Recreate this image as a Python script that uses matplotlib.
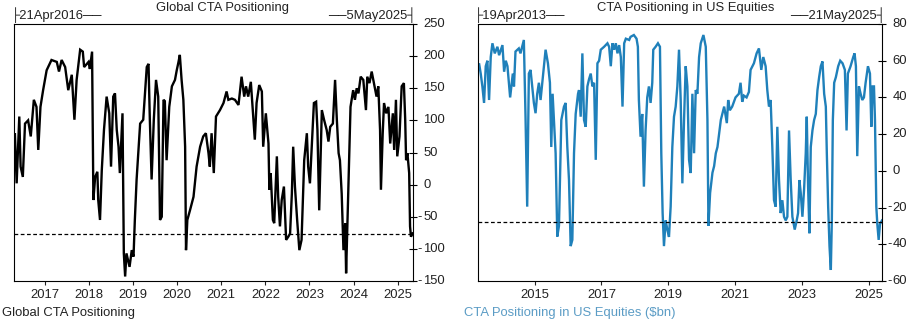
import matplotlib
matplotlib.use("Agg")
import matplotlib.pyplot as plt
from matplotlib import transforms

plt.rcParams['font.family'] = ['Liberation Sans', 'DejaVu Sans']
plt.rcParams['font.size'] = 9.4

# Global CTA positioning, decimal years
gl_year = [2016.30, 2016.32, 2016.36, 2016.42, 2016.45, 2016.50, 2016.55, 2016.62, 2016.68, 2016.75,
           2016.81, 2016.85, 2016.90, 2016.96, 2017.04, 2017.15, 2017.27, 2017.32, 2017.38, 2017.46,
           2017.53, 2017.61, 2017.67, 2017.72, 2017.80, 2017.86, 2017.89, 2017.99, 2018.02, 2018.07,
           2018.10, 2018.14, 2018.19, 2018.21, 2018.25, 2018.29, 2018.34, 2018.40, 2018.46, 2018.50,
           2018.55, 2018.59, 2018.63, 2018.67, 2018.70, 2018.76, 2018.79, 2018.82, 2018.85, 2018.92,
           2018.97, 2019.01, 2019.04, 2019.08, 2019.16, 2019.23, 2019.31, 2019.35, 2019.38, 2019.42,
           2019.47, 2019.52, 2019.57, 2019.61, 2019.65, 2019.69, 2019.72, 2019.76, 2019.82, 2019.88,
           2019.95, 2019.99, 2020.03, 2020.06, 2020.10, 2020.14, 2020.18, 2020.20, 2020.23, 2020.29,
           2020.37, 2020.44, 2020.52, 2020.59, 2020.65, 2020.71, 2020.74, 2020.78, 2020.83, 2020.88,
           2020.97, 2021.05, 2021.12, 2021.16, 2021.24, 2021.31, 2021.39, 2021.46, 2021.52, 2021.56,
           2021.61, 2021.67, 2021.71, 2021.76, 2021.80, 2021.86, 2021.92, 2021.95, 2022.01, 2022.07,
           2022.09, 2022.12, 2022.17, 2022.20, 2022.26, 2022.29, 2022.33, 2022.37, 2022.42, 2022.47,
           2022.52, 2022.56, 2022.60, 2022.63, 2022.67, 2022.72, 2022.77, 2022.82, 2022.88, 2022.94,
           2022.97, 2023.01, 2023.05, 2023.10, 2023.15, 2023.18, 2023.22, 2023.28, 2023.33, 2023.39,
           2023.43, 2023.47, 2023.53, 2023.58, 2023.62, 2023.66, 2023.69, 2023.73, 2023.77, 2023.81,
           2023.83, 2023.86, 2023.90, 2023.93, 2023.99, 2024.03, 2024.07, 2024.11, 2024.16, 2024.22,
           2024.28, 2024.31, 2024.36, 2024.41, 2024.46, 2024.52, 2024.56, 2024.60, 2024.62, 2024.66,
           2024.69, 2024.74, 2024.79, 2024.83, 2024.89, 2024.92, 2024.96, 2024.99, 2025.04, 2025.09,
           2025.14, 2025.17, 2025.19, 2025.22, 2025.26, 2025.28, 2025.30, 2025.34]
gl_val = [59, 80, 2, 106, 28, 12, 95, 100, 75, 132,
          121, 54, 121, 147, 178, 194, 191, 176, 194, 183,
          147, 171, 101, 163, 210, 207, 183, 191, 180, 207,
          -24, 12, 20, -24, -55, 22, 85, 137, 111, 28,
          137, 142, 85, 59, 18, 111, -107, -143, -107, -128,
          -102, -112, -55, 8, 95, 101, 183, 188, 101, 8,
          101, 163, 137, -55, -50, 132, 130, 38, 121, 153,
          163, 178, 191, 202, 163, 132, 59, -102, -55, -40,
          -19, 28, 59, 75, 80, 49, 28, 80, 18, 106,
          116, 127, 145, 132, 134, 132, 124, 168, 137, 153,
          137, 160, 121, 70, 127, 155, 145, 59, 111, 64,
          -8, 18, -55, -60, 44, -19, -65, -24, -3, -86,
          -81, -76, -14, 59, -3, -55, -102, -86, 38, 80,
          28, 2, 59, 127, 129, 85, -40, 116, 101, 85,
          67, 90, 95, 163, 101, 49, 38, -14, -102, -60,
          -138, -60, 49, 121, 147, 132, 150, 142, 168, 163,
          116, 168, 158, 176, 158, 137, 153, 85, -8, 80,
          127, 111, 121, 64, 111, 54, 132, 44, 75, 153,
          158, 101, 38, 49, 18, -65, -81, -76]
gl_level = -77

# CTA positioning in US equities ($bn), decimal years
us_year = [2013.30, 2013.34, 2013.39, 2013.44, 2013.49, 2013.54, 2013.59, 2013.64, 2013.69, 2013.74,
           2013.81, 2013.89, 2013.94, 2014.04, 2014.09, 2014.14, 2014.19, 2014.27, 2014.35, 2014.385,
           2014.43, 2014.53, 2014.58, 2014.63, 2014.68, 2014.73, 2014.78, 2014.83, 2014.88, 2014.93,
           2014.98, 2015.03, 2015.08, 2015.13, 2015.18, 2015.28, 2015.33, 2015.40, 2015.46, 2015.50,
           2015.54, 2015.58, 2015.63, 2015.68, 2015.73, 2015.80, 2015.88, 2015.93, 2015.98, 2016.03,
           2016.08, 2016.13, 2016.18, 2016.23, 2016.30, 2016.33, 2016.38, 2016.43, 2016.48, 2016.53,
           2016.58, 2016.63, 2016.68, 2016.73, 2016.78, 2016.83, 2016.88, 2016.93, 2016.98, 2017.08,
           2017.18, 2017.23, 2017.28, 2017.33, 2017.38, 2017.43, 2017.48, 2017.53, 2017.58, 2017.63,
           2017.68, 2017.73, 2017.83, 2017.87, 2017.97, 2018.05, 2018.09, 2018.12, 2018.17, 2018.22,
           2018.27, 2018.32, 2018.37, 2018.42, 2018.47, 2018.52, 2018.55, 2018.62, 2018.69, 2018.75,
           2018.79, 2018.83, 2018.87, 2018.92, 2018.97, 2019.02, 2019.07, 2019.12, 2019.17, 2019.22,
           2019.27, 2019.32, 2019.37, 2019.42, 2019.47, 2019.52, 2019.57, 2019.62, 2019.67, 2019.72,
           2019.77, 2019.82, 2019.87, 2019.92, 2019.97, 2020.05, 2020.12, 2020.17, 2020.20, 2020.25,
           2020.32, 2020.37, 2020.42, 2020.47, 2020.57, 2020.67, 2020.75, 2020.79, 2020.84, 2020.91,
           2021.01, 2021.11, 2021.16, 2021.21, 2021.26, 2021.34, 2021.41, 2021.46, 2021.56, 2021.64,
           2021.71, 2021.78, 2021.84, 2021.91, 2021.96, 2022.01, 2022.06, 2022.11, 2022.16, 2022.21,
           2022.26, 2022.31, 2022.36, 2022.41, 2022.46, 2022.51, 2022.56, 2022.61, 2022.66, 2022.71,
           2022.78, 2022.84, 2022.88, 2022.92, 2022.96, 2023.01, 2023.06, 2023.11, 2023.14, 2023.18,
           2023.22, 2023.26, 2023.31, 2023.36, 2023.41, 2023.46, 2023.51, 2023.56, 2023.61, 2023.66,
           2023.71, 2023.74, 2023.78, 2023.82, 2023.86, 2023.89, 2023.92, 2023.96, 2024.01, 2024.08,
           2024.14, 2024.21, 2024.28, 2024.33, 2024.37, 2024.45, 2024.53, 2024.57, 2024.61, 2024.65,
           2024.70, 2024.75, 2024.80, 2024.85, 2024.90, 2024.97, 2025.03, 2025.07, 2025.11, 2025.15,
           2025.18, 2025.22, 2025.25, 2025.29, 2025.33, 2025.39]
us_val = [55, 58.6, 53, 46, 37, 57, 60, 38.6, 62, 69.5,
          64, 67.6, 63, 68.5, 54, 60, 57, 40, 53, 46,
          65, 66.7, 64, 67.6, 71.3, 29.5, -19.5, 53, 55, 46,
          37, 31.4, 42, 48, 38.6, 57, 66, 58.6, 48, 13,
          42, 27.7, 9.6, -35.8, -30, 27.7, 35, 37, 13, -5,
          -41, -37.6, 9.6, 31, 42, 44, 29.5, 64, 27.7, 24,
          46, 50, 53, 46, 48, 6, 58.6, 60, 66, 67.6,
          69.5, 67.6, 57, 69.5, 66, 69.5, 64, 68.5, 62, 35,
          69.5, 72, 71.3, 73, 74, 72, 67.6, 38.6, 18.6, 31,
          -8.6, 22, 40, 46, 37, 48, 66, 67.6, 69.5, 67.6,
          9.6, -23, -41, -27, -32, -36, -19.5, 13, 29.5, 35,
          46, 66, 38.6, -6.8, 27.7, 57, 46, 6, -1.2, 42,
          9.6, 44, 42, 62, 69.5, 74, 67.6, 27.7, -30, -12,
          -1, 2.6, 9.6, 13, 27.7, 35, 26, 38.6, 33, 35,
          40, 42, 48, 37.6, 41, 40, 43, 55, 58.6, 64,
          66.7, 55, 62, 57, 44, 35, 38.6, 13, -15.9, -19.5,
          24, -5, -23, -16, -25, -27, -25, 22, -5, -25,
          -32, -27, -23, -5, -12, -25, -10, 9.6, 29.5, -8.6,
          -34, 13, 22, 27.7, 31, 44, 51, 57, 59.6, 42,
          35, 9.6, -19.5, -41, -54, -27, 27.7, 48, 51, 57,
          60, 58.6, 55, 22, 53, 57, 62, 64, 57, 8,
          46, 42, 38.6, 40, 48, 57, 53, 24, 46, 46,
          27.7, -19.5, -29, -37.6, -29, -27]
us_level = -28

gl_xticks = list(range(2017, 2026))
us_xticks = list(range(2015, 2026, 2))
gl_yticks = list(range(-150, 251, 50))
us_yticks = list(range(-60, 81, 20))

INK = '#222222'
BLUE = '#1f80ba'


def panel(ax, x, y, color, yticks, xticks, level, title, start, end, title_x):
    ax.plot(x, y, color=color, lw=1.7, solid_joinstyle='miter')
    ax.axhline(level, color='black', lw=0.9, ls=(0, (3, 2)))
    ax.set_xlim(x[0], x[-1])
    ax.set_ylim(yticks[0], yticks[-1])
    ax.set_xticks(xticks)
    ax.set_xticklabels([str(t) for t in xticks])
    ax.tick_params(axis='x', direction='out', length=3, width=0.8, pad=2.5, colors=INK)
    ax.yaxis.tick_right()
    ax.set_yticks(yticks)
    ax.tick_params(axis='y', direction='inout', length=6, width=0.8, labelright=False)
    for s in ax.spines.values():
        s.set_linewidth(0.8)

    # value labels on the right: digits left-aligned, minus hangs to the left
    blend = transforms.blended_transform_factory(ax.transAxes, ax.transData)
    digits = blend + transforms.ScaledTranslation(10.5 / 100, 0, ax.figure.dpi_scale_trans)
    minus = blend + transforms.ScaledTranslation(9.5 / 100, 0, ax.figure.dpi_scale_trans)
    for v in yticks:
        ax.text(1, v, str(abs(v)), transform=digits, ha='left', va='center', color=INK)
        if v < 0:
            ax.text(1, v, '-', transform=minus, ha='right', va='center', color=INK)

    ax.annotate(title, xy=(title_x, 1), xycoords='axes fraction', xytext=(0, 16),
                textcoords='offset pixels', ha='center', va='center', color=INK)
    ax.annotate('\u251c' + start + '\u2500\u2500', xy=(0, 1), xycoords='axes fraction',
                xytext=(-3.5, 9), textcoords='offset pixels', ha='left', va='center', color=INK)
    ax.annotate('\u2500\u2500' + end + '\u2524', xy=(1, 1), xycoords='axes fraction',
                xytext=(3.5, 9), textcoords='offset pixels', ha='right', va='center', color=INK)


fig = plt.figure(figsize=(9.14, 3.22), dpi=100)
ax1 = fig.add_axes([14 / 914, 41 / 322, 398.7 / 914, 257 / 322])
ax2 = fig.add_axes([477.7 / 914, 41 / 322, 404.3 / 914, 257 / 322])

panel(ax1, gl_year, gl_val, 'black', gl_yticks, gl_xticks, gl_level,
      'Global CTA Positioning', '21Apr2016', '5May2025', 0.524)
panel(ax2, us_year, us_val, BLUE, us_yticks, us_xticks, us_level,
      'CTA Positioning in US Equities', '19Apr2013', '21May2025', 0.515)

fig.text(2 / 914, 1 - 313 / 322, 'Global CTA Positioning', ha='left', va='center', color=INK)
fig.text(463.7 / 914, 1 - 313 / 322, 'CTA Positioning in US Equities ($bn)', ha='left',
         va='center', color='#5b9cc5')

fig.savefig('out.png', dpi=100)
